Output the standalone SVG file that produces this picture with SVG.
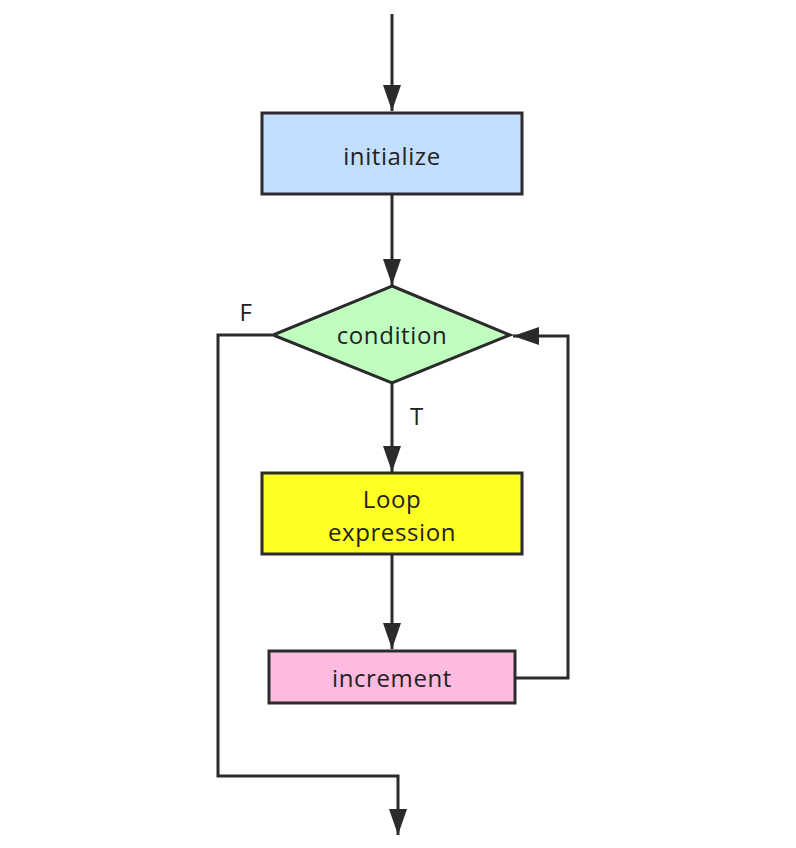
<svg xmlns="http://www.w3.org/2000/svg" width="796" height="848" viewBox="0 0 796 848">
  <style>
    .box { stroke: #2b2b2b; stroke-width: 3; }
    .lbl { font-family: "Open Sans", "DejaVu Sans", sans-serif; font-size: 24px; letter-spacing: 0.6px; fill: #222; text-anchor: middle; }
    .edge { fill: none; stroke: #2b2b2b; stroke-width: 3; }
  </style>
  <defs>
    <marker id="arrh" markerUnits="userSpaceOnUse" markerWidth="28" markerHeight="20" viewBox="0 0 28 20" refX="26" refY="10" orient="auto">
      <path d="M0,1 L26,10 L0,19 Z" fill="#2b2b2b"/>
    </marker>
  </defs>
  <rect width="796" height="848" fill="#fff"/>
  <g id="connectors">
    <path class="edge" d="M392,14 L392,111" marker-end="url(#arrh)"/>
    <path class="edge" d="M392,194 L392,285" marker-end="url(#arrh)"/>
    <path class="edge" d="M392,383 L392,472" marker-end="url(#arrh)"/>
    <path class="edge" d="M392,554 L392,649" marker-end="url(#arrh)"/>
    <path class="edge" d="M515,678 L568,678 L568,336 L513,336" marker-end="url(#arrh)"/>
    <path class="edge" d="M272,335 L218,335 L218,776 L398,776 L398,835" marker-end="url(#arrh)"/>
    <text class="lbl" x="246" y="321">F</text>
    <text class="lbl" x="417" y="425">T</text>
  </g>
  <g id="initialize">
    <rect class="box" x="262" y="113" width="260" height="81" fill="#c2defe"/>
    <text class="lbl" x="392" y="165">initialize</text>
  </g>
  <g id="condition">
    <polygon class="box" points="392,286 510,335 392,383 273,335" fill="#c0fec0"/>
    <text class="lbl" x="392" y="344">condition</text>
  </g>
  <g id="loop">
    <rect class="box" x="262" y="473" width="260" height="81" fill="#ffff22"/>
    <text class="lbl" x="392" y="508">Loop</text>
    <text class="lbl" x="392" y="541">expression</text>
  </g>
  <g id="increment">
    <rect class="box" x="269" y="651" width="246" height="52" fill="#ffbadf"/>
    <text class="lbl" x="392" y="687">increment</text>
  </g>
</svg>
